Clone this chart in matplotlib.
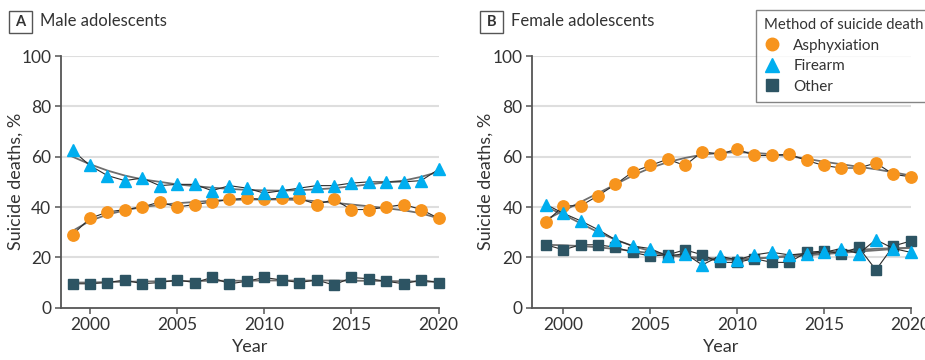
import numpy as np
import matplotlib
matplotlib.use("Agg")
import matplotlib.pyplot as plt
from matplotlib.lines import Line2D
from matplotlib.patches import Rectangle

plt.rcParams['font.family'] = ['Lato', 'DejaVu Sans']

years = list(range(1999, 2021))

# male adolescents, % of suicide deaths
male_asph = [29, 35.5, 38, 39, 40, 42, 40, 41, 42, 43, 43.5, 43, 43.5, 43.5, 41, 43, 39, 39, 40, 41, 39, 35.5]
male_fire = [62.5, 56.5, 52.5, 50.5, 51.5, 48.5, 49, 49, 46.5, 48.5, 47.5, 45.5, 46.5, 47.5, 48.5, 48.5, 49.5, 50, 50, 50, 50.5, 55]
male_other = [9.5, 9.5, 10, 11, 9.5, 10, 11, 10, 12, 9.5, 10.5, 12, 11, 10, 11, 9, 12, 11.5, 10.5, 9.5, 11, 10]
# fitted trend lines
male_asph_trend = [30.5, 34.5, 37, 38.7, 40, 40.8, 41.5, 42, 42.5, 42.8, 43, 43, 43, 42.8, 42.3, 41.7, 41, 40.3, 39.5, 38.7, 37.5, 35.5]
male_fire_trend = [60, 57, 54.5, 52.5, 51, 50, 49, 48.3, 47.7, 47.2, 46.8, 46.6, 46.5, 46.7, 47, 47.5, 48.2, 49, 49.8, 50.5, 52, 54]
male_other_trend = [10, 10, 10.2, 10.3, 10.4, 10.5, 10.6, 10.6, 10.7, 10.7, 10.7, 10.8, 10.8, 10.8, 10.8, 10.8, 10.7, 10.7, 10.6, 10.5, 10.4, 10.3]

# female adolescents
fem_asph = [34, 40.5, 40.5, 44.5, 49, 54, 56.5, 59, 56.5, 62, 61, 63, 60.5, 60.5, 61, 58.5, 56.5, 55.5, 55.5, 57.5, 53, 52]
fem_fire = [41, 37.5, 34.5, 31, 27, 24.5, 23.5, 20.5, 21.5, 17, 20.5, 19, 21, 22, 21, 21.5, 22, 23.5, 21.5, 27, 23.5, 22]
fem_other = [25, 23, 25, 25, 24, 22, 20.5, 21, 23, 21, 18, 18, 19.5, 18, 18, 22, 22.5, 21.5, 24, 15, 24.5, 26.5]
fem_asph_trend = [35, 38.5, 42, 45.5, 49, 52.5, 55.5, 57.8, 59.5, 60.8, 61.5, 61.8, 61.5, 61, 60.2, 59.2, 58, 57, 56, 55, 53.8, 52.5]
fem_fire_trend = [40, 37, 33.5, 30, 27, 24.5, 22.5, 21, 20, 19.3, 19, 19.1, 19.5, 20, 20.7, 21.4, 22, 22.5, 23, 23.4, 23.6, 23.8]
fem_other_trend = [25, 24.8, 24.5, 24, 23.3, 22.5, 21.7, 21, 20.3, 19.8, 19.5, 19.5, 19.6, 19.9, 20.3, 20.8, 21.3, 21.8, 22.3, 22.8, 23.3, 23.8]

c_asph = '#f7941d'
c_fire = '#00aeef'
c_other = '#2d5463'

fig = plt.figure(figsize=(9.25, 3.6), dpi=100)
axA = fig.add_axes([61/925, 0.1453, 378/925, 0.6991])
axB = fig.add_axes([532.3/925, 0.1453, 378.4/925, 0.6991])


def draw_panel(ax, asph, fire, other, trends, xlim, ylab_x):
    # trend first, then raw data with markers on top
    for t in trends:
        ax.plot(years, t, color='#6e6e6e', lw=1.3, zorder=2)
    ax.plot(years, asph, color='#2b2b2b', lw=0.8, marker='o', ms=8.2,
            mfc=c_asph, mec=c_asph, zorder=3, clip_on=False)
    ax.plot(years, other, color='#2b2b2b', lw=0.8, marker='s', ms=7.6,
            mfc=c_other, mec=c_other, zorder=4, clip_on=False)
    ax.plot(years, fire, color='#2b2b2b', lw=0.8, marker='^', ms=9,
            mfc=c_fire, mec=c_fire, zorder=5, clip_on=False)

    ax.set_xlim(*xlim)
    ax.set_ylim(0, 100)
    ax.set_yticks([0, 20, 40, 60, 80, 100])
    ax.set_xticks([2000, 2005, 2010, 2015, 2020])
    for yv in [20, 40, 60, 80, 100]:
        ax.axhline(yv, color='#dedede', lw=1.5, zorder=1)
    for s in ['top', 'right']:
        ax.spines[s].set_visible(False)
    for s in ['left', 'bottom']:
        ax.spines[s].set_color('#555555')
        ax.spines[s].set_linewidth(1.3)
    ax.tick_params(direction='out', length=4, width=1.1, color='#555555',
                   labelsize=12.5, labelcolor='#333333', pad=3)
    ax.set_xlabel('Year', fontsize=13, color='#333333')
    ax.set_ylabel('Suicide deaths, %', fontsize=13, color='#333333')
    ax.xaxis.set_label_coords(0.5, -0.125)
    ax.yaxis.set_label_coords(ylab_x, 0.5)


draw_panel(axA, male_asph, male_fire, male_other,
           [male_asph_trend, male_fire_trend, male_other_trend], (1998.34, 2020.02), -0.098)
draw_panel(axB, fem_asph, fem_fire, fem_other,
           [fem_asph_trend, fem_fire_trend, fem_other_trend], (1998.21, 2020.0), -0.101)

# panel labels with little boxes
for x0, letter, txt in [(9, 'A', 'Male adolescents'), (480, 'B', 'Female adolescents')]:
    fig.patches.append(Rectangle((x0/925, 1-33.3/360), 22.5/925, 22.3/360,
                                 transform=fig.transFigure, fill=False,
                                 ec='#555555', lw=1.0))
    fig.text((x0+11.2)/925, 1-22.2/360, letter, ha='center', va='center',
             fontsize=10.5, fontweight='bold', color='#333333')
    fig.text((x0+31)/925, 1-21.5/360, txt, ha='left', va='center',
             fontsize=12, color='#333333')

handles = [
    Line2D([], [], ls='none', marker='o', ms=9, mfc=c_asph, mec=c_asph, label='Asphyxiation'),
    Line2D([], [], ls='none', marker='^', ms=9.5, mfc=c_fire, mec=c_fire, label='Firearm'),
    Line2D([], [], ls='none', marker='s', ms=8, mfc=c_other, mec=c_other, label='Other'),
]
leg = fig.legend(handles=handles, title='Method of suicide death', loc='upper left',
                 bbox_to_anchor=(756/925, 1-10/360), fontsize=11, title_fontsize=10.7,
                 frameon=True, fancybox=False, edgecolor='#666666',
                 handlelength=1.0, handletextpad=0.9, labelspacing=0.42,
                 borderpad=0.55, borderaxespad=0, alignment='left')
leg.get_frame().set_linewidth(1.0)
leg.get_title().set_color('#333333')
for t in leg.get_texts():
    t.set_color('#333333')

fig.savefig('out.png', dpi=100)
